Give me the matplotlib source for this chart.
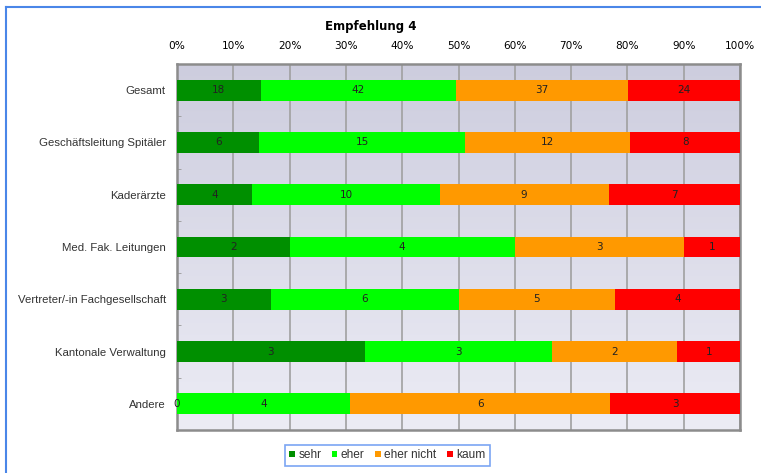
import numpy as np
import matplotlib
matplotlib.use("Agg")
import matplotlib.pyplot as plt
from matplotlib.lines import Line2D
from matplotlib.patches import Patch

categories = ["Gesamt", "Geschäftsleitung Spitäler", "Kaderärzte", "Med. Fak. Leitungen",
              "Vertreter/-in Fachgesellschaft", "Kantonale Verwaltung", "Andere"]
sehr = [18, 6, 4, 2, 3, 3, 0]
eher = [42, 15, 10, 4, 6, 3, 4]
eher_nicht = [37, 12, 9, 3, 5, 2, 6]
kaum = [24, 8, 7, 1, 4, 1, 3]

series_names = ["sehr", "eher", "eher nicht", "kaum"]
colors = ["#008f00", "#00ff00", "#ff9900", "#ff0000"]

counts = np.array([sehr, eher, eher_nicht, kaum], dtype=float)
pct = counts / counts.sum(axis=0) * 100

fig = plt.figure(figsize=(7.61, 4.73), dpi=100)
ax = fig.add_axes([0.2326, 0.0909, 0.7398, 0.7738])

# gradient background
grad = np.linspace(0, 1, 256).reshape(-1, 1)
top_c = np.array([205, 205, 222]) / 255
bot_c = np.array([236, 236, 245]) / 255
img = top_c * (1 - grad[..., None]) + bot_c * grad[..., None]
img = np.repeat(img, 2, axis=1)
ax.imshow(img, extent=[0, 100, 6.5, -0.5], aspect="auto", zorder=0)

y = np.arange(len(categories))
left = np.zeros(len(categories))
for i in range(4):
    ax.barh(y, pct[i], left=left, height=0.4, color=colors[i], zorder=3, label=series_names[i])
    for j in range(len(categories)):
        ax.text(left[j] + pct[i][j] / 2, y[j], f"{int(counts[i][j])}", ha="center", va="center",
                fontsize=7.5, color="#222222", zorder=4)
    left += pct[i]

ax.set_xlim(0, 100)
ax.set_ylim(6.5, -0.5)
ax.set_xticks(range(0, 101, 10))
ax.set_xticklabels([f"{v}%" for v in range(0, 101, 10)], fontsize=7.6)
ax.xaxis.tick_top()
ax.tick_params(axis="x", length=0, pad=9)
ax.set_yticks(y)
ax.set_yticklabels(categories, family="Liberation Sans", fontsize=8.2, color="#333333")
ax.tick_params(axis="y", length=0, pad=8)
ax.set_yticks(np.arange(0.5, 6, 1), minor=True)
ax.tick_params(axis="y", which="minor", direction="in", length=3, color="#999999")
ax.grid(axis="x", color="#a0a0a0", linewidth=1.2, zorder=1)
for s in ax.spines.values():
    s.set_color("#8c8c8c")
    s.set_linewidth(1.8)

fig.text(0.4875, 0.945, "Empfehlung 4", ha="center", va="center", fontsize=8.5, fontweight="bold")

handles = [Patch(facecolor=c, edgecolor="none") for c in colors]
leg = fig.legend(handles, series_names, loc="center", bbox_to_anchor=(0.509, 0.037), ncol=4,
                 frameon=True, fancybox=False, handlelength=0.45, handleheight=0.45,
                 handletextpad=0.3, columnspacing=0.9, borderpad=0.35,
                 prop={"family": "Liberation Sans", "size": 8.6})
leg.get_frame().set_edgecolor("#5b8ff0")
leg.get_frame().set_linewidth(1.2)
for t in leg.get_texts():
    t.set_color("#333333")

# outer blue frame (left and top edges visible)
fig.add_artist(Line2D([0.0075, 0.0075], [0.0, 0.986], color="#4a86e8", linewidth=1.5))
fig.add_artist(Line2D([0.0075, 1.0], [0.986, 0.986], color="#4a86e8", linewidth=1.5))

fig.savefig("out.png", dpi=100)
